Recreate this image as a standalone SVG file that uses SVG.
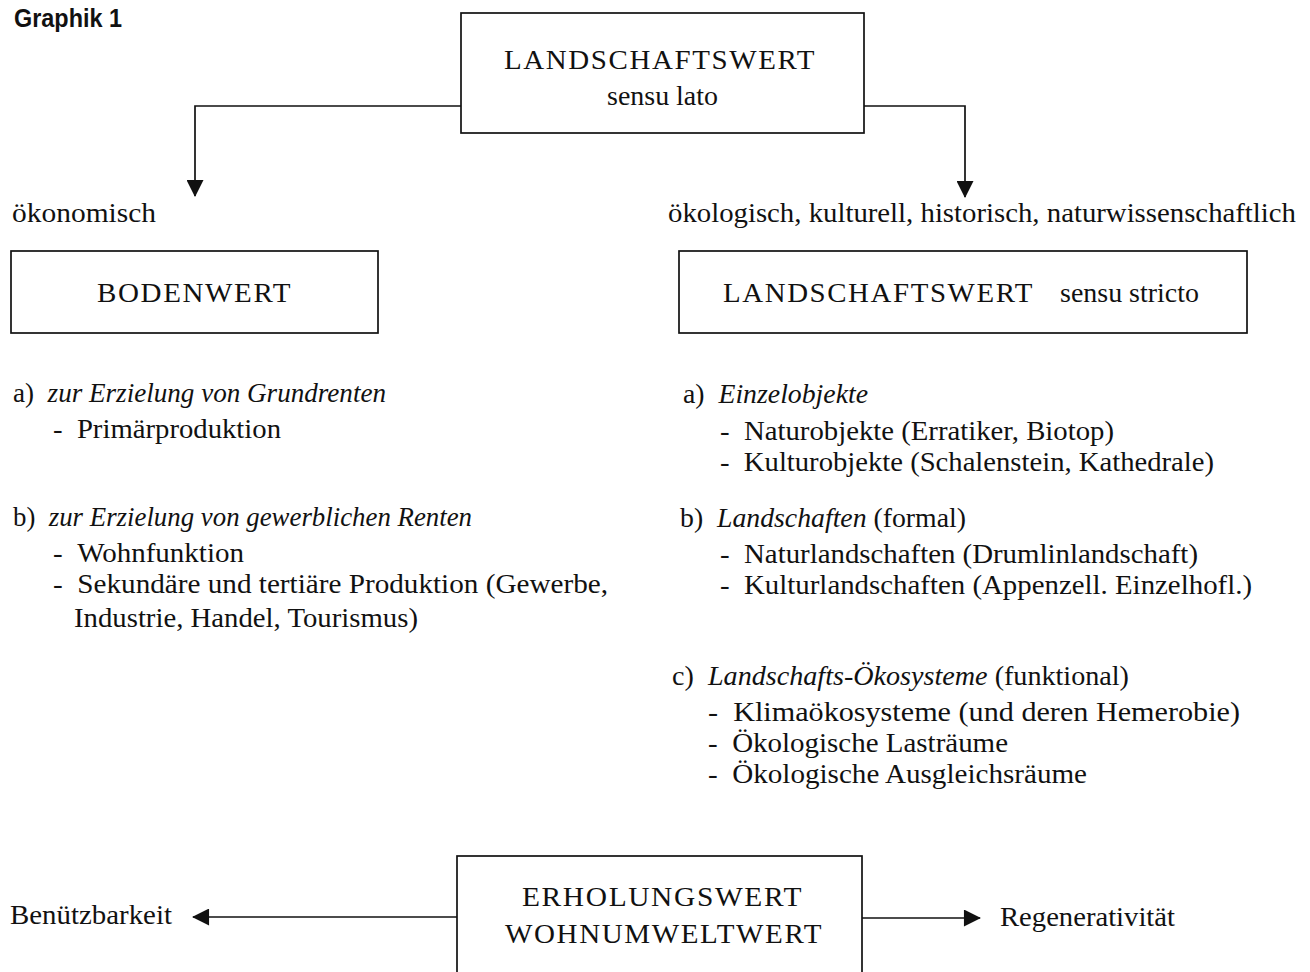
<svg xmlns="http://www.w3.org/2000/svg" width="1310" height="972" viewBox="0 0 1310 972">
  <style>
    .box { fill: #ffffff; stroke: #111111; stroke-width: 1.7; }
    .t { font-family: "Liberation Serif", "Times New Roman", serif; font-size: 28px; fill: #111111; }
    .cap { font-family: "Liberation Serif", "Times New Roman", serif; font-size: 27px; letter-spacing: 1.5px; fill: #111111; }
    .it { font-style: italic; }
    .hd { font-family: "Liberation Sans", Arial, sans-serif; font-size: 25px; font-weight: bold; fill: #111111; }
    .con { fill: none; stroke: #111111; stroke-width: 1.7; }
  </style>
  <defs>
    <marker id="arr" viewBox="0 0 18 18" refX="17" refY="9" markerWidth="18" markerHeight="17" markerUnits="userSpaceOnUse" orient="auto">
      <path d="M0,0 L18,9 L0,18 Z" fill="#111111"/>
    </marker>
  </defs>
  <rect width="1310" height="972" fill="#ffffff"/>

  <g id="title">
    <text class="hd" x="14" y="27" textLength="108" lengthAdjust="spacingAndGlyphs">Graphik 1</text>
  </g>

  <g id="connectors">
    <path class="con" d="M461,106 H195 V196" marker-end="url(#arr)"/>
    <path class="con" d="M864,106 H965 V197" marker-end="url(#arr)"/>
    <path class="con" d="M457,917 H193" marker-end="url(#arr)"/>
    <path class="con" d="M862,918 H980" marker-end="url(#arr)"/>
  </g>

  <g id="node-landschaftswert-lato">
    <rect class="box" x="461" y="13" width="403" height="120"/>
    <text class="cap" x="504" y="69" textLength="312" lengthAdjust="spacingAndGlyphs">LANDSCHAFTSWERT</text>
    <text class="t" x="607" y="105" textLength="111" lengthAdjust="spacingAndGlyphs">sensu lato</text>
  </g>

  <g id="label-oekonomisch">
    <text class="t" x="12" y="222" textLength="144" lengthAdjust="spacingAndGlyphs">ökonomisch</text>
  </g>
  <g id="label-oekologisch">
    <text class="t" x="668" y="222" textLength="628" lengthAdjust="spacingAndGlyphs">ökologisch, kulturell, historisch, naturwissenschaftlich</text>
  </g>

  <g id="node-bodenwert">
    <rect class="box" x="11" y="251" width="367" height="82"/>
    <text class="cap" x="97" y="302" textLength="195" lengthAdjust="spacingAndGlyphs">BODENWERT</text>
  </g>

  <g id="node-landschaftswert-stricto">
    <rect class="box" x="679" y="251" width="568" height="82"/>
    <text class="cap" x="723" y="302" textLength="311" lengthAdjust="spacingAndGlyphs">LANDSCHAFTSWERT</text>
    <text class="t" x="1060" y="302" textLength="139" lengthAdjust="spacingAndGlyphs">sensu stricto</text>
  </g>

  <g id="list-bodenwert">
    <text class="t" x="13" y="402" textLength="373" lengthAdjust="spacingAndGlyphs">a)&#8194;<tspan class="it">zur Erzielung von Grundrenten</tspan></text>
    <text class="t" x="53" y="438" textLength="228" lengthAdjust="spacingAndGlyphs">-&#8194;Primärproduktion</text>
    <text class="t" x="13" y="526" textLength="459" lengthAdjust="spacingAndGlyphs">b)&#8194;<tspan class="it">zur Erzielung von gewerblichen Renten</tspan></text>
    <text class="t" x="53" y="562" textLength="191" lengthAdjust="spacingAndGlyphs">-&#8194;Wohnfunktion</text>
    <text class="t" x="53" y="593" textLength="555" lengthAdjust="spacingAndGlyphs">-&#8194;Sekundäre und tertiäre Produktion (Gewerbe,</text>
    <text class="t" x="74" y="627" textLength="344" lengthAdjust="spacingAndGlyphs">Industrie, Handel, Tourismus)</text>
  </g>

  <g id="list-landschaftswert">
    <text class="t" x="683" y="403" textLength="185" lengthAdjust="spacingAndGlyphs">a)&#8194;<tspan class="it">Einzelobjekte</tspan></text>
    <text class="t" x="720" y="440" textLength="394" lengthAdjust="spacingAndGlyphs">-&#8194;Naturobjekte (Erratiker, Biotop)</text>
    <text class="t" x="720" y="471" textLength="494" lengthAdjust="spacingAndGlyphs">-&#8194;Kulturobjekte (Schalenstein, Kathedrale)</text>
    <text class="t" x="680" y="527" textLength="286" lengthAdjust="spacingAndGlyphs">b)&#8194;<tspan class="it">Landschaften</tspan> (formal)</text>
    <text class="t" x="720" y="563" textLength="478" lengthAdjust="spacingAndGlyphs">-&#8194;Naturlandschaften (Drumlinlandschaft)</text>
    <text class="t" x="720" y="594" textLength="532" lengthAdjust="spacingAndGlyphs">-&#8194;Kulturlandschaften (Appenzell. Einzelhofl.)</text>
    <text class="t" x="672" y="685" textLength="457" lengthAdjust="spacingAndGlyphs">c)&#8194;<tspan class="it">Landschafts-Ökosysteme</tspan> (funktional)</text>
    <text class="t" x="708" y="721" textLength="532" lengthAdjust="spacingAndGlyphs">-&#8194;Klimaökosysteme (und deren Hemerobie)</text>
    <text class="t" x="708" y="752" textLength="300" lengthAdjust="spacingAndGlyphs">-&#8194;Ökologische Lasträume</text>
    <text class="t" x="708" y="783" textLength="379" lengthAdjust="spacingAndGlyphs">-&#8194;Ökologische Ausgleichsräume</text>
  </g>

  <g id="node-erholungswert">
    <rect class="box" x="457" y="856" width="405" height="140"/>
    <text class="cap" x="522" y="906" textLength="281" lengthAdjust="spacingAndGlyphs">ERHOLUNGSWERT</text>
    <text class="cap" x="505" y="943" textLength="318" lengthAdjust="spacingAndGlyphs">WOHNUMWELTWERT</text>
  </g>

  <g id="label-benuetzbarkeit">
    <text class="t" x="10" y="924" textLength="162" lengthAdjust="spacingAndGlyphs">Benützbarkeit</text>
  </g>
  <g id="label-regenerativitaet">
    <text class="t" x="1000" y="926" textLength="175" lengthAdjust="spacingAndGlyphs">Regenerativität</text>
  </g>
</svg>
